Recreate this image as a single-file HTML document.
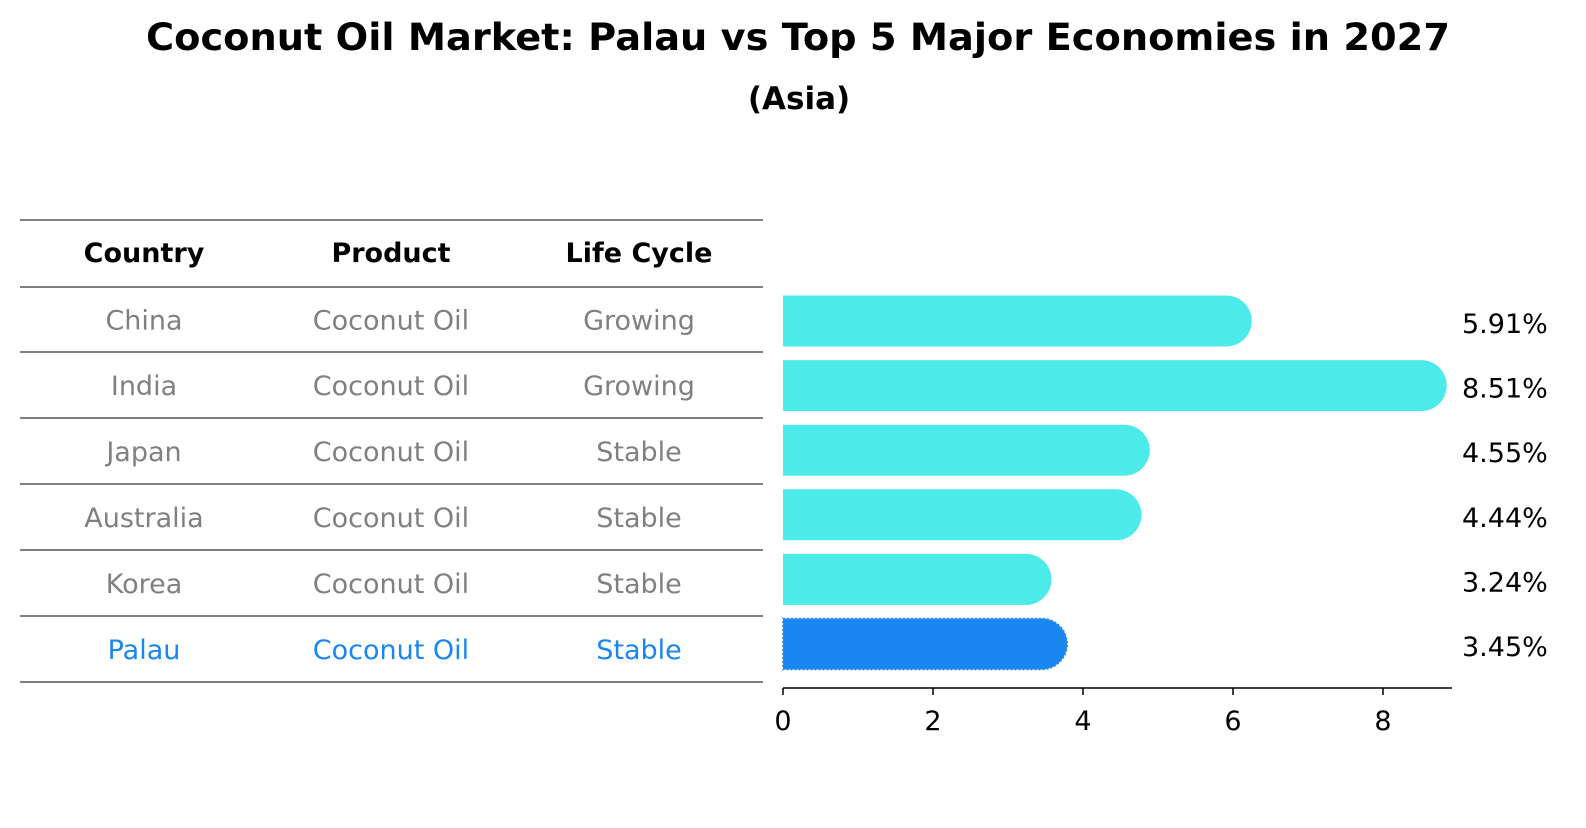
<!DOCTYPE html>
<html><head><meta charset="utf-8"><style>
body{margin:0;background:#fff;font-family:"Liberation Sans","DejaVu Sans",sans-serif;}
svg text{font-family:"DejaVu Sans","Liberation Sans",sans-serif;}
</style></head><body>
<svg id="c" width="1586" height="823" viewBox="0 0 1586 823" xmlns="http://www.w3.org/2000/svg">
<rect width="1586" height="823" fill="#fff"/>
<text x="798" y="50" text-anchor="middle" font-size="37" font-weight="bold" textLength="1304" lengthAdjust="spacingAndGlyphs">Coconut Oil Market: Palau vs Top 5 Major Economies in 2027</text>
<text x="799" y="109" text-anchor="middle" font-size="31" font-weight="bold">(Asia)</text>
<g id="table"></g>
<g id="bars"></g>
</svg>
<script>
const countries=["China","India","Japan","Australia","Korea","Palau"];
const products=["Coconut Oil","Coconut Oil","Coconut Oil","Coconut Oil","Coconut Oil","Coconut Oil"];
const lifeCycles=["Growing","Growing","Stable","Stable","Stable","Stable"];
const values=[5.91,8.51,4.55,4.44,3.24,3.45];
const valueLabels=["5.91%","8.51%","4.55%","4.44%","3.24%","3.45%"];
const xTicks=[0,2,4,6,8];
const NS="http://www.w3.org/2000/svg";
function mk(t,a,p,txt){const e=document.createElementNS(NS,t);for(const k in a)e.setAttribute(k,a[k]);if(txt!==undefined)e.textContent=txt;p.appendChild(e);return e;}
const x=v=>783+v*75;
const rowY=i=>321+i*64.6;
const FS=27;
const tbl=document.getElementById('table');
const lineYs=[220,287,352,418,484,550,616,682];
lineYs.forEach((y,i)=>{const l=mk('line',{x1:20,x2:763,y1:y,y2:y,stroke:'#000','stroke-width':1},tbl);

});
const cx=[144,391,639];
["Country","Product","Life Cycle"].forEach((h,j)=>{const t=mk('text',{x:cx[j],y:262,'text-anchor':'middle','font-size':FS,'font-weight':'bold'},tbl,h);

});
countries.forEach((c,i)=>{const col=c==="Palau"?"#1a86f0":"#808080";const y=(lineYs[i+1]+lineYs[i+2])/2+10;
[c,products[i],lifeCycles[i]].forEach((v,j)=>{const t=mk('text',{x:cx[j],y:y,'text-anchor':'middle','font-size':FS,fill:col},tbl,v);

});});
const g=document.getElementById('bars');
const h=51,r=25.5;
values.forEach((v,i)=>{const yc=rowY(i);const pal=countries[i]==="Palau";const col=pal?"#1a86f0":"#4deaea";
const xe=x(v);
const d=`M${x(0)},${yc-h/2} L${xe},${yc-h/2} A${r},${r} 0 0 1 ${xe},${yc+h/2} L${x(0)},${yc+h/2} Z`;
const p=mk('path',{d:d,fill:col},g);
if(pal){p.setAttribute('stroke','#3a8ad8');p.setAttribute('stroke-dasharray','2,2');p.setAttribute('stroke-width','1.5');}


const t=mk('text',{x:1462,y:yc+12,'font-size':FS},g,valueLabels[i]);

});
const ax=mk('line',{x1:x(0),x2:1452,y1:688,y2:688,stroke:'#000','stroke-width':1.5},g);


xTicks.forEach(v=>{const tk=mk('line',{x1:x(v),x2:x(v),y1:688,y2:695,stroke:'#000','stroke-width':1.5},g);


const t=mk('text',{x:x(v),y:730,'text-anchor':'middle','font-size':FS},g,String(v));

});
</script>
</body></html>
